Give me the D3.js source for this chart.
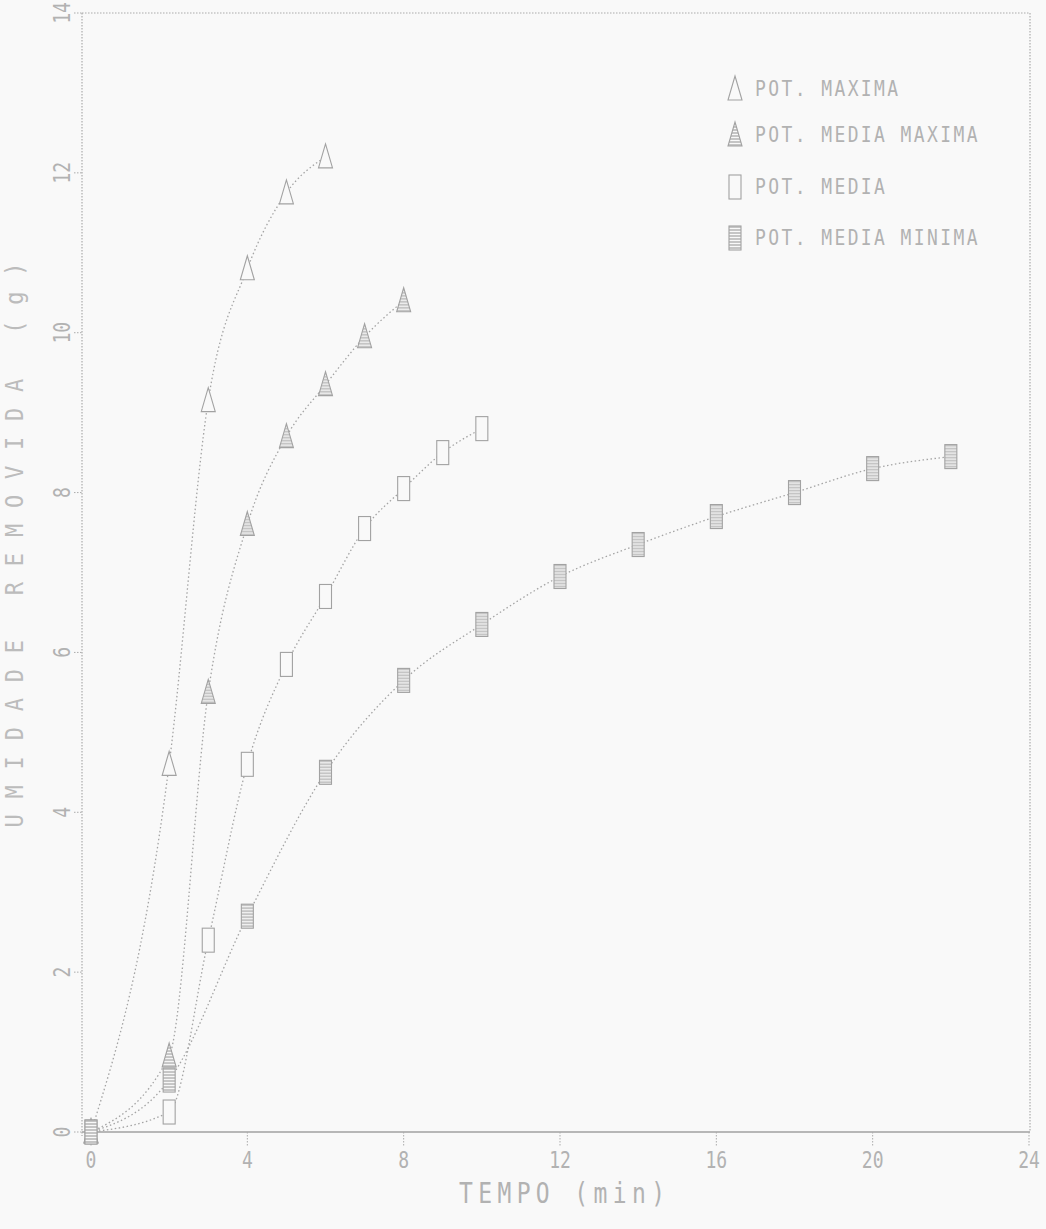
<!DOCTYPE html>
<html>
<head>
<meta charset="utf-8">
<script src="https://cdn.jsdelivr.net/npm/d3@7"></script>
<style>
  html, body { margin: 0; padding: 0; background: #f9f9f9; }
  svg { display: block; }
  text { font-family: "DejaVu Sans Mono", "Liberation Mono", monospace; fill: #b2b2b2; }
</style>
</head>
<body>
<div id="chart"></div>
<script>
// tempo (min) e valores
const maxT = [0, 2, 3, 4, 5, 6]
const maxV = [0, 4.6, 9.15, 10.8, 11.75, 12.2]

const medMaxT = [0, 2, 3, 4, 5, 6, 7, 8]
const medMaxV = [0, 0.95, 5.5, 7.6, 8.7, 9.35, 9.95, 10.4]

const medT = [0, 2, 3, 4, 5, 6, 7, 8, 9, 10]
const medV = [0, 0.25, 2.4, 4.6, 5.85, 6.7, 7.55, 8.05, 8.5, 8.8]

const minT = [0, 2, 4, 6, 8, 10, 12, 14, 16, 18, 20, 22]
const minV = [0, 0.65, 2.7, 4.5, 5.65, 6.35, 6.95, 7.35, 7.7, 8.0, 8.3, 8.45]

const xTicks = [0, 4, 8, 12, 16, 20, 24]
const yTicks = [0, 2, 4, 6, 8, 10, 12, 14]
const legendLabels = ['POT. MAXIMA', 'POT. MEDIA MAXIMA', 'POT. MEDIA', 'POT. MEDIA MINIMA']

const W = 1046, H = 1229
const grey = '#ababab'
const bg = '#f9f9f9'

const x = d3.scaleLinear().domain([0, 24]).range([91, 1029])
const y = d3.scaleLinear().domain([0, 14]).range([1132, 13])

const frameL = 82, frameR = 1030

const svg = d3.select('#chart').append('svg')
  .attr('width', W).attr('height', H)

// hatch pattern for filled markers
const defs = svg.append('defs')
const pat = defs.append('pattern')
  .attr('id', 'hatch').attr('patternUnits', 'userSpaceOnUse')
  .attr('width', 4).attr('height', 3)
pat.append('rect').attr('width', 4).attr('height', 3).attr('fill', bg)
pat.append('line').attr('x1', 0).attr('x2', 4).attr('y1', 1).attr('y2', 1)
  .attr('stroke', '#a2a2a2').attr('stroke-width', 1.2)

// frame
const dots = '1.5,1.5'
svg.append('path')
  .attr('d', `M${frameL},${y(14)}H${frameR}V${y(0)}`)
  .attr('fill', 'none').attr('stroke', grey).attr('stroke-width', 1.2)
  .attr('stroke-dasharray', dots)

// x axis
const xAxis = svg.append('g').attr('transform', `translate(0,${y(0)})`)
xAxis.append('line').attr('x1', frameL).attr('x2', frameR)
  .attr('stroke', '#a0a0a0').attr('stroke-width', 1.6)
const xt = xAxis.selectAll('g.tick').data(xTicks).enter().append('g')
  .attr('class', 'tick').attr('transform', d => `translate(${x(d)},0)`)
xt.append('line').attr('y1', 0).attr('y2', 14)
  .attr('stroke', grey).attr('stroke-dasharray', dots)
xt.append('text')
  .attr('transform', 'translate(0,36) scale(0.95,1.25)')
  .attr('text-anchor', 'middle').attr('font-size', 19)
  .text(d => d)

// y axis
const yAxis = svg.append('g')
yAxis.append('line').attr('x1', frameL).attr('x2', frameL)
  .attr('y1', y(14)).attr('y2', y(0) + 4)
  .attr('stroke', grey).attr('stroke-width', 1.2).attr('stroke-dasharray', dots)
const yt = yAxis.selectAll('g.tick').data(yTicks).enter().append('g')
  .attr('class', 'tick').attr('transform', d => `translate(${frameL},${y(d)})`)
yt.append('line').attr('x1', -8).attr('x2', 0)
  .attr('stroke', grey).attr('stroke-dasharray', dots)
yt.append('text')
  .attr('transform', 'translate(-12,0) rotate(-90) scale(0.95,1.2)')
  .attr('text-anchor', 'middle').attr('font-size', 19)
  .text(d => d)

// axis titles
svg.append('text')
  .attr('transform', 'translate(562,1203) scale(1,1.2)')
  .attr('text-anchor', 'middle').attr('font-size', 23)
  .attr('textLength', 206).attr('lengthAdjust', 'spacing')
  .text('TEMPO (min)')

svg.append('text')
  .attr('transform', 'translate(23,545) rotate(-90) scale(1,1.15)')
  .attr('text-anchor', 'middle').attr('font-size', 22)
  .attr('textLength', 565).attr('lengthAdjust', 'spacing')
  .style('fill', '#bcbcbc')
  .text('UMIDADE REMOVIDA (g)')

// markers
function marker(sel, kind) {
  if (kind === 'triOpen' || kind === 'triFill') {
    sel.append('path').attr('d', 'M0,-13L7,11L-7,11Z')
      .attr('fill', kind === 'triFill' ? 'url(#hatch)' : bg)
      .attr('stroke', '#a2a2a2').attr('stroke-width', 1.1)
  } else {
    sel.append('rect').attr('x', -6).attr('y', -12).attr('width', 12).attr('height', 24)
      .attr('fill', kind === 'sqFill' ? 'url(#hatch)' : bg)
      .attr('stroke', '#a2a2a2').attr('stroke-width', 1.1)
  }
}

const series = [
  { t: maxT, v: maxV, kind: 'triOpen' },
  { t: medMaxT, v: medMaxV, kind: 'triFill' },
  { t: medT, v: medV, kind: 'sqOpen' },
  { t: minT, v: minV, kind: 'sqFill' },
]

const line = d3.line()
  .x(d => x(d[0])).y(d => y(d[1]))
  .curve(d3.curveMonotoneX)

series.forEach(s => {
  const pts = s.t.map((t, i) => [t, s.v[i]])
  svg.append('path').datum(pts)
    .attr('d', line)
    .attr('fill', 'none').attr('stroke', '#a4a4a4').attr('stroke-width', 1.3)
    .attr('stroke-dasharray', '1.5,2.5')
  svg.selectAll(null).data(pts).enter().append('g')
    .attr('transform', d => `translate(${x(d[0])},${y(d[1])})`)
    .each(function () { marker(d3.select(this), s.kind) })
})

// legend
const legY = [89, 135, 187, 238]
const leg = svg.append('g')
legendLabels.forEach((lab, i) => {
  const g = leg.append('g').attr('transform', `translate(735,${legY[i]})`)
  marker(g, series[i].kind)
  g.append('text')
    .attr('transform', 'translate(20,7) scale(1,1.2)')
    .attr('font-size', 18).attr('letter-spacing', 2.4)
    .text(lab)
})
</script>
</body>
</html>
